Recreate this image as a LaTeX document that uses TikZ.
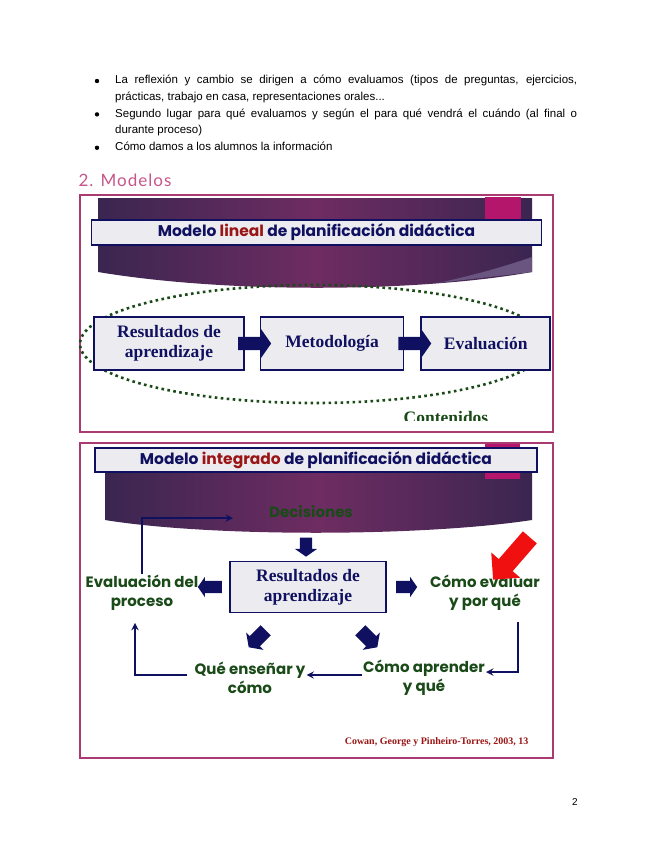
\documentclass[tikz,border=0pt]{standalone}
\usepackage{fontspec}
\setmainfont{Liberation Sans}
\newfontfamily\slidefont{Poppins}
\newfontfamily\slideserif{Liberation Serif}
\newfontfamily\headfont[LetterSpace=6]{Lato}
\usetikzlibrary{positioning, shapes.arrows, calc}

\definecolor{navy}{HTML}{101060}
\definecolor{darkred}{HTML}{9A1515}
\definecolor{leafgreen}{HTML}{1A4A18}
\definecolor{framepink}{HTML}{A93A72}
\definecolor{headpink}{HTML}{C8558A}
\definecolor{magentabar}{HTML}{B3166A}
\definecolor{boxgray}{HTML}{ECECF0}
\definecolor{bandark}{HTML}{3A2650}
\definecolor{banmid}{HTML}{6E2C62}
\definecolor{banlight}{HTML}{6A5580}
\definecolor{redarrow}{HTML}{F01010}

\tikzset{
  bulletitem/.style={inner sep=0pt, text width=462pt, align=justify, font=\fontsize{11.5}{16.5}\selectfont},
  slideframe/.style={draw=framepink, line width=1.5pt},
  titlebox/.style={draw=navy, line width=1.6pt, fill=boxgray, inner sep=0pt, text=navy, font=\slidefont\bfseries\fontsize{15.5}{17}\selectfont},
  stepbox/.style={draw=navy, line width=1.6pt, fill=boxgray, align=center, inner sep=2pt, text=navy, font=\slideserif\bfseries\fontsize{17.5}{20}\selectfont},
  greenlabel/.style={align=center, inner sep=1pt, text=leafgreen, font=\slidefont\bfseries\fontsize{15}{19}\selectfont},
  blockarrow/.style={single arrow, draw=none, fill=navy, inner xsep=0pt, single arrow tip angle=110},
  flow/.style={->, >=stealth, draw=navy, line width=2.2pt},
}

\begin{document}
\begin{tikzpicture}[x=1pt, y=-1pt]
\useasboundingbox (0,0) rectangle (655,848);
\fill[white] (0,0) rectangle (655,848);

% text of the page
\node (item1) [bulletitem, anchor=north west] at (115,72) {\strut La reflexión y cambio se dirigen a cómo evaluamos (tipos de preguntas, ejercicios,\linebreak prácticas, trabajo en casa, representaciones orales...\strut};
\node (item2) [bulletitem, below=0pt of item1.south west, anchor=north west] {\strut Segundo lugar para qué evaluamos y según el para qué vendrá el cuándo (al final o\linebreak durante proceso)\strut};
\node (item3) [bulletitem, below=0pt of item2.south west, anchor=north west] {\strut Cómo damos a los alumnos la información\strut};
\foreach \i in {1,2,3}
  \fill ([xshift=-18pt, yshift=-9pt]item\i.north west) circle (2.2pt);

\node (heading) [anchor=west, text=headpink, font=\headfont\fontsize{17}{19}\selectfont] at (75,180) {2. Modelos};

% linear model
\draw[slideframe] (80,195) rectangle (553,432);
\shade[left color=bandark, right color=bandark, middle color=banmid] (98,198) -- (532,198) -- (532,272) .. controls (420,292) and (230,294) .. (98,272) -- cycle;
\fill[banlight] (532,257) .. controls (500,268) and (470,276) .. (438,283) .. controls (470,279) and (500,276) .. (532,272) -- cycle;
\fill[magentabar] (485,197) rectangle (521,219);
\node (title1) [titlebox, minimum width=450pt, minimum height=25pt] at (316.5,232.5) {Modelo {\color{darkred}lineal} de planificación didáctica};

\draw[leafgreen, line width=2.6pt, dash pattern=on 2.6pt off 3.4pt] (314,344) ellipse [x radius=234, y radius=59];

\node (res1) [stepbox, minimum width=150pt, minimum height=53pt] at (169,343.5) {Resultados de\\aprendizaje};
\node (met) [stepbox, minimum width=143pt, minimum height=53pt, right=15pt of res1] {Metodología};
\node (eva) [stepbox, minimum width=129pt, minimum height=53pt, right=16pt of met] {Evaluación};
\node (arr1) [blockarrow, minimum height=33pt, inner ysep=6.5pt, single arrow head extend=8pt] at ($(res1.east)!0.5!(met.west)$) {};
\node (arr2) [blockarrow, minimum height=33pt, inner ysep=6.5pt, single arrow head extend=8pt] at ($(met.east)!0.5!(eva.west)$) {};

\begin{scope}
\clip (80,195) rectangle (553,420);
\node (cont) [anchor=base, text=leafgreen, font=\slideserif\bfseries\fontsize{17.5}{20}\selectfont] at (446,423) {Contenidos};
\end{scope}

% integrated model
\draw[slideframe] (80,443) rectangle (553,758);
\shade[left color=bandark, right color=bandark, middle color=banmid] (105,462) -- (532,462) -- (532,520) .. controls (420,537) and (210,537) .. (105,520) -- cycle;
\fill[magentabar] (485,444) rectangle (520,479);
\node (title2) [titlebox, minimum width=442pt, minimum height=24pt] at (316,460) {Modelo {\color{darkred}integrado} de planificación didáctica};

\node (dec) [greenlabel] at (311,512) {Decisiones};
\node (res) [stepbox, minimum width=156pt, minimum height=51pt] at (308,587) {Resultados de\\aprendizaje};
\node (evalproc) [greenlabel] at (142,593) {Evaluación del\\proceso};
\node (comoeval) [greenlabel] at (485,593) {Cómo evaluar\\y por qué};
\node (queens) [greenlabel] at (250,678) {Qué enseñar y\\cómo};
\node (comoapr) [greenlabel] at (424,678) {Cómo aprender\\y qué};

\node (downarr) [blockarrow, rotate=-90, minimum height=19pt, inner ysep=6pt, single arrow head extend=5pt] at (306,545) {};
\node (leftarr) [blockarrow, rotate=180, minimum height=24pt, inner ysep=6pt, single arrow head extend=4pt] at (212,587) {};
\node (rightarr) [blockarrow, minimum height=21pt, inner ysep=6pt, single arrow head extend=4pt] at (404.5,587) {};
\node (diagleft) [blockarrow, rotate=225, minimum height=24pt, inner ysep=7pt, single arrow head extend=5pt] at (259,637) {};
\node (diagright) [blockarrow, rotate=-45, minimum height=24pt, inner ysep=7pt, single arrow head extend=5pt] at (367,637) {};
\node (redarr) [blockarrow, fill=redarrow, single arrow tip angle=90, rotate=229, minimum height=56pt, inner ysep=9pt, single arrow head extend=10pt] at (514.5,555) {};

\coordinate (dectip) at (233,518);
\draw[flow] (evalproc.north) |- (dectip);
\draw[flow, shorten <=10pt] ([xshift=33pt]comoeval.south) |- ([yshift=6pt]comoapr.east);
\draw[flow] ([yshift=3pt]comoapr.west) -- ([yshift=3pt]queens.east);
\draw[flow, shorten <=6pt, shorten >=11pt] ([yshift=3pt]queens.west) -| ([xshift=-7pt]evalproc.south);

\node (cite) [anchor=east, text=darkred, font=\slideserif\bfseries\fontsize{10}{12}\selectfont] at (532,742) {Cowan, George y Pinheiro-Torres, 2003, 13};

\node (pagenum) at (575,802) {2};
\end{tikzpicture}
\end{document}
